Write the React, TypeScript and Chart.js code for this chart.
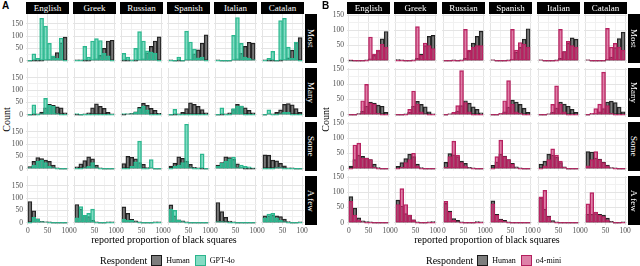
import React, { useEffect, useRef } from "react";
import { Chart, registerables } from "chart.js";
Chart.register(...registerables);

// ---------- data ----------
const languages = ["English", "Greek", "Russian", "Spanish", "Italian", "Catalan"];
const quantifiers = ["Most", "Many", "Some", "A few"];
const binCentres = [5, 15, 25, 35, 45, 55, 65, 75, 85, 95];
const xTickValues = [0, 25, 50, 75, 100];
const yTickValues = [0, 25, 50, 75, 100, 125, 150];
const legendTitle = "Respondent";
const humanLabel = "Human";
const xTitle = "reported proportion of black squares";
const yTitle = "Count";

// human counts, per quantifier, one array per language (English..Catalan)
const humanMost = [
  [0, 0, 0, 0, 2, 6, 18, 33, 72, 96],
  [4, 2, 0, 0, 2, 8, 22, 50, 80, 83],
  [0, 0, 3, 0, 2, 8, 32, 58, 80, 97],
  [3, 0, 0, 0, 3, 5, 28, 44, 71, 105],
  [3, 0, 0, 0, 1, 8, 30, 58, 75, 71],
  [3, 0, 0, 0, 0, 5, 12, 43, 73, 94],
];
const humanMany = [
  [0, 0, 4, 11, 28, 42, 38, 32, 28, 8],
  [0, 0, 2, 8, 28, 44, 34, 26, 10, 3],
  [0, 2, 6, 12, 30, 46, 38, 26, 18, 6],
  [0, 0, 4, 10, 25, 48, 42, 34, 21, 8],
  [0, 0, 3, 8, 22, 42, 35, 28, 18, 8],
  [0, 2, 4, 10, 20, 42, 45, 40, 25, 10],
];
const humanSome = [
  [9, 30, 45, 41, 35, 30, 15, 4, 0, 0],
  [8, 20, 33, 48, 40, 15, 4, 0, 0, 0],
  [21, 50, 46, 40, 25, 18, 5, 3, 0, 0],
  [11, 22, 48, 42, 30, 18, 6, 2, 0, 0],
  [15, 25, 48, 45, 38, 20, 6, 0, 0, 0],
  [56, 55, 35, 32, 22, 12, 4, 2, 0, 0],
];
const humanAFew = [
  [86, 48, 16, 6, 4, 2, 0, 0, 0, 0],
  [74, 55, 30, 25, 10, 3, 0, 0, 3, 4],
  [64, 38, 14, 8, 3, 0, 0, 0, 4, 3],
  [72, 28, 12, 8, 3, 0, 0, 0, 0, 0],
  [82, 45, 22, 7, 2, 0, 0, 0, 0, 0],
  [28, 28, 30, 28, 25, 15, 5, 0, 0, 3],
];

// GPT-4o counts
const gpt4oMost = [
  [0, 28, 10, 172, 140, 70, 20, 10, 92, 0],
  [0, 0, 58, 15, 80, 90, 82, 30, 20, 0],
  [30, 15, 0, 50, 118, 80, 40, 35, 30, 0],
  [0, 0, 15, 0, 120, 76, 47, 12, 15, 0],
  [0, 0, 0, 0, 103, 175, 70, 15, 10, 5],
  [0, 10, 38, 0, 162, 172, 55, 10, 76, 0],
];
const gpt4oMany = [
  [0, 40, 0, 5, 66, 38, 35, 5, 0, 0],
  [5, 0, 0, 0, 0, 0, 0, 0, 0, 0],
  [5, 3, 5, 10, 25, 35, 20, 0, 0, 0],
  [0, 22, 0, 0, 0, 0, 0, 0, 0, 0],
  [0, 28, 0, 0, 25, 35, 35, 0, 0, 0],
  [0, 20, 0, 0, 5, 10, 10, 0, 0, 0],
];
const gpt4oSome = [
  [5, 15, 30, 35, 25, 10, 5, 0, 0, 0],
  [0, 0, 5, 10, 25, 5, 0, 0, 0, 0],
  [0, 0, 10, 28, 112, 0, 0, 37, 0, 0],
  [0, 10, 15, 25, 180, 5, 0, 0, 60, 0],
  [10, 22, 30, 40, 47, 5, 15, 10, 8, 3],
  [0, 0, 0, 5, 5, 0, 0, 0, 0, 0],
];
const gpt4oAFew = [
  [0, 22, 15, 5, 3, 0, 0, 0, 0, 0],
  [20, 65, 30, 38, 55, 0, 0, 0, 0, 0],
  [15, 10, 10, 3, 0, 0, 0, 0, 0, 0],
  [55, 50, 10, 5, 0, 0, 0, 0, 0, 0],
  [5, 5, 3, 0, 0, 0, 0, 0, 0, 0],
  [20, 35, 38, 20, 10, 5, 0, 0, 0, 0],
];

// o4-mini counts
const o4miniMost = [
  [2, 0, 0, 0, 0, 78, 22, 35, 55, 45],
  [0, 0, 0, 0, 0, 112, 18, 58, 50, 40],
  [0, 0, 0, 0, 0, 103, 35, 45, 50, 50],
  [3, 0, 0, 0, 0, 103, 35, 60, 55, 45],
  [3, 0, 0, 0, 0, 103, 30, 64, 50, 45],
  [3, 0, 0, 0, 0, 106, 45, 57, 45, 35],
];
const o4miniMany = [
  [0, 0, 3, 46, 100, 38, 35, 5, 0, 0],
  [0, 0, 0, 18, 78, 35, 10, 3, 0, 0],
  [0, 3, 8, 30, 145, 40, 10, 0, 0, 0],
  [0, 0, 5, 46, 112, 35, 10, 5, 0, 0],
  [0, 0, 3, 34, 95, 35, 10, 0, 0, 0],
  [0, 5, 20, 35, 140, 30, 5, 0, 0, 0],
];
const o4miniSome = [
  [0, 78, 84, 35, 35, 30, 5, 0, 0, 0],
  [0, 5, 20, 30, 51, 10, 0, 0, 0, 0],
  [5, 40, 91, 45, 20, 10, 3, 0, 0, 0],
  [0, 40, 94, 40, 30, 15, 3, 0, 0, 0],
  [0, 10, 30, 65, 45, 25, 5, 0, 0, 0],
  [10, 30, 56, 30, 20, 10, 3, 0, 0, 0],
];
const o4miniAFew = [
  [70, 25, 10, 3, 0, 0, 0, 0, 0, 0],
  [60, 112, 60, 25, 10, 0, 0, 0, 0, 0],
  [70, 35, 8, 3, 0, 0, 0, 0, 0, 0],
  [62, 25, 10, 5, 0, 0, 0, 0, 0, 0],
  [85, 106, 20, 3, 0, 0, 0, 0, 0, 0],
  [62, 99, 35, 25, 20, 10, 3, 0, 0, 0],
];

const humanRows = [humanMost, humanMany, humanSome, humanAFew];
const gpt4oRows = [gpt4oMost, gpt4oMany, gpt4oSome, gpt4oAFew];
const o4miniRows = [o4miniMost, o4miniMany, o4miniSome, o4miniAFew];

// ---------- styling / layout ----------
const SERIF = '"Liberation Serif", "Times New Roman", serif';
const HUMAN_FILL = "rgba(70,70,70,0.7)";
const HUMAN_BORDER = "#1a1a1a";
const PANEL_W = 43;
const PANEL_H = 49;
const ROW_TOPS = [14, 68, 122, 176];
const PADL = 24, PADR = 10, PADT = 3, PADB = 14, LW = 21, BH = 12;

type FacetProps = {
  left: number; top: number; human: number[]; model: number[];
  modelFill: string; modelBorder: string; yMin: number; yMax: number;
  showY: boolean; showX: boolean;
};

function Facet(p: FacetProps) {
  const ref = useRef<HTMLCanvasElement>(null);
  const W = PANEL_W + PADL + PADR;
  const H = PANEL_H + PADT + PADB;
  useEffect(() => {
    const common = {
      grouped: false, categoryPercentage: 1, barPercentage: 1,
      borderSkipped: false, minBarLength: 1, borderWidth: 0.8,
    };
    const gridColor = (ctx: any) => (ctx.tick && ctx.tick.value % 50 === 0 ? "#e4e4e4" : "#f1f1f1");
    const tickFont = { family: SERIF, size: 7.5 };
    const zeroPad = (s: any) => { s.paddingLeft = 0; s.paddingRight = 0; s.paddingTop = 0; s.paddingBottom = 0; };
    const chart = new Chart(ref.current!, {
      type: "bar",
      data: {
        datasets: [
          { ...common, data: binCentres.map((x, i) => ({ x, y: p.model[i] })), backgroundColor: p.modelFill, borderColor: p.modelBorder, order: 1 } as any,
          { ...common, data: binCentres.map((x, i) => ({ x, y: p.human[i] })), backgroundColor: HUMAN_FILL, borderColor: HUMAN_BORDER, order: 2 } as any,
        ],
      },
      options: {
        responsive: false, animation: false, events: [],
        layout: { padding: { left: PADL - (p.showY ? LW : 0), right: PADR, top: PADT, bottom: PADB - (p.showX ? BH : 0) } },
        plugins: { legend: { display: false }, tooltip: { enabled: false } },
        scales: {
          x: {
            type: "linear", min: -5, max: 105, offset: false,
            grid: { color: gridColor, lineWidth: 1, drawTicks: false, offset: false },
            border: { display: false },
            ticks: { display: p.showX, autoSkip: false, maxRotation: 0, minRotation: 0, padding: 2, font: tickFont, color: "#4d4d4d",
              callback: (v: any) => (Number(v) % 50 === 0 ? String(v) : "") },
            afterBuildTicks: (s: any) => { s.ticks = xTickValues.map((v) => ({ value: v })); },
            afterFit: (s: any) => { s.height = p.showX ? BH : 0; zeroPad(s); },
          },
          y: {
            type: "linear", min: p.yMin, max: p.yMax,
            grid: { color: gridColor, lineWidth: 1, drawTicks: false },
            border: { display: false },
            ticks: { display: p.showY, autoSkip: false, padding: 3, font: tickFont, color: "#4d4d4d",
              callback: (v: any) => (Number(v) % 50 === 0 ? String(v) : "") },
            afterBuildTicks: (s: any) => { s.ticks = yTickValues.filter((v) => v <= p.yMax).map((v) => ({ value: v })); },
            afterFit: (s: any) => { s.width = p.showY ? LW : 0; zeroPad(s); },
          },
        },
      } as any,
    });
    return () => chart.destroy();
  }, []);
  return (
    <canvas ref={ref} width={W} height={H}
      style={{ position: "absolute", left: p.left - PADL, top: p.top - PADT, width: W, height: H }} />
  );
}

type PanelProps = {
  letter: string; letterX: number; lefts: number[]; rowStripLeft: number; rowStripW: number;
  modelRows: number[][][]; modelName: string; modelFill: string; modelBorder: string;
  yMin: number; yMax: number; countX: number; titleCenter: number; legendLeft: number;
};

function Panel(p: PanelProps) {
  const stripStyle: React.CSSProperties = {
    position: "absolute", background: "#000", color: "#fff", fontFamily: SERIF, fontSize: 9,
    display: "flex", alignItems: "center", justifyContent: "center", overflow: "hidden", whiteSpace: "nowrap",
  };
  const key = (fill: string, border: string): React.CSSProperties => ({
    width: 9, height: 9, background: fill, border: `1px solid ${border}`, display: "inline-block",
  });
  return (
    <>
      <div style={{ position: "absolute", left: p.letterX, top: 0, font: 'bold 10px "Liberation Sans", Arial, sans-serif' }}>{p.letter}</div>
      <div style={{ position: "absolute", left: p.countX - 20, top: 114, width: 40, textAlign: "center", fontFamily: SERIF, fontSize: 10, transform: "rotate(-90deg)" }}>{yTitle}</div>
      {languages.map((lang, c) => (
        <div key={lang} style={{ ...stripStyle, left: p.lefts[c], top: 2, width: PANEL_W, height: 12 }}>{lang}</div>
      ))}
      {quantifiers.map((q, r) => (
        <div key={q} style={{ ...stripStyle, left: p.rowStripLeft, top: ROW_TOPS[r], width: p.rowStripW, height: PANEL_H, writingMode: "vertical-rl" }}>{q}</div>
      ))}
      {quantifiers.map((q, r) =>
        languages.map((lang, c) => (
          <Facet key={q + lang} left={p.lefts[c]} top={ROW_TOPS[r]} human={humanRows[r][c]} model={p.modelRows[r][c]}
            modelFill={p.modelFill} modelBorder={p.modelBorder} yMin={p.yMin} yMax={p.yMax}
            showY={c === 0} showX={r === quantifiers.length - 1} />
        ))
      )}
      <div style={{ position: "absolute", left: p.titleCenter - 100, width: 200, top: 234, textAlign: "center", fontFamily: SERIF, fontSize: 10, whiteSpace: "nowrap" }}>{xTitle}</div>
      <div style={{ position: "absolute", left: p.legendLeft, top: 254, height: 12, display: "flex", alignItems: "center", fontFamily: SERIF, whiteSpace: "nowrap" }}>
        <span style={{ fontSize: 10, marginRight: 4 }}>{legendTitle}</span>
        <span style={key(HUMAN_FILL, HUMAN_BORDER)} />
        <span style={{ fontSize: 8, marginLeft: 4, marginRight: 5 }}>{humanLabel}</span>
        <span style={key(p.modelFill, p.modelBorder)} />
        <span style={{ fontSize: 8, marginLeft: 4 }}>{p.modelName}</span>
      </div>
    </>
  );
}

export default function App() {
  return (
    <div style={{ position: "absolute", left: 0, top: 0, width: 640, height: 266, background: "#fff", overflow: "hidden" }}>
      <Panel letter="A" letterX={2} lefts={[26, 73, 120, 167, 214, 261]} rowStripLeft={305} rowStripW={12}
        modelRows={gpt4oRows} modelName="GPT-4o" modelFill="rgba(50,195,155,0.6)" modelBorder="#2bb58c"
        yMin={-9} yMax={189} countX={6} titleCenter={164} legendLeft={100} />
      <Panel letter="B" letterX={322} lefts={[347, 394, 442, 489, 537, 584]} rowStripLeft={628} rowStripW={12}
        modelRows={o4miniRows} modelName="o4-mini" modelFill="rgba(200,45,110,0.6)" modelBorder="#b3205e"
        yMin={-7.3} yMax={153.3} countX={325} titleCenter={487} legendLeft={426} />
    </div>
  );
}
